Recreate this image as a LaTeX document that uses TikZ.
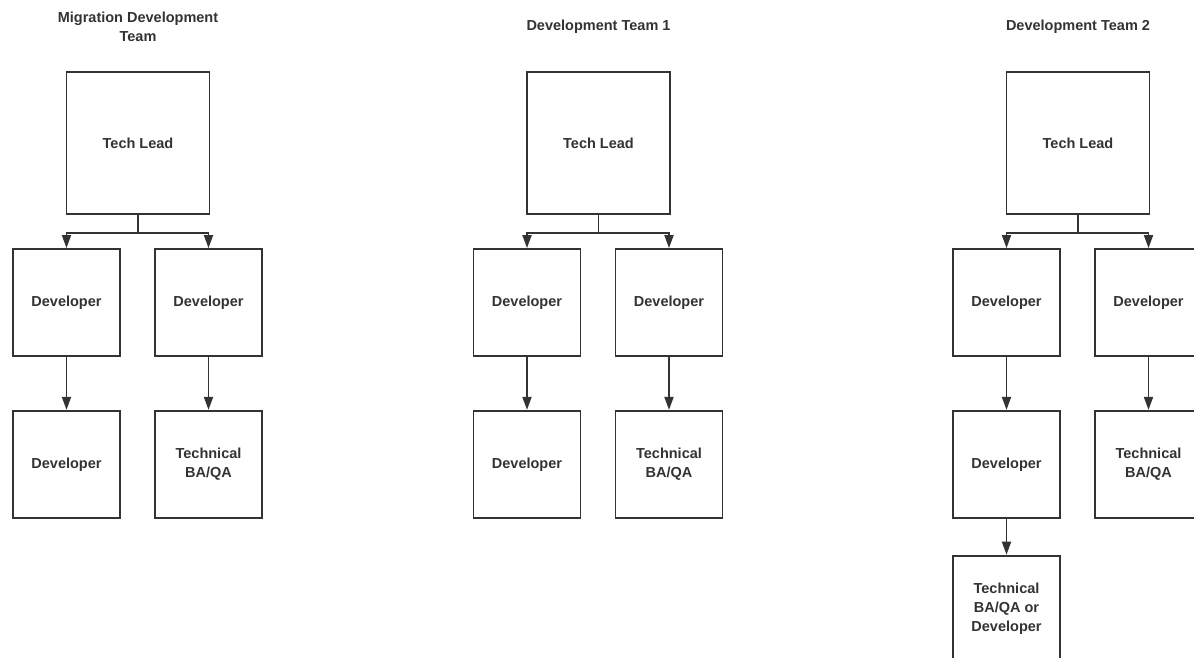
\documentclass[tikz,border=0pt]{standalone}
\usepackage{fontspec}
\setmainfont{Liberation Sans}
\usetikzlibrary{positioning,arrows.meta}
\definecolor{chartline}{RGB}{51,51,51}

\begin{document}
\begin{tikzpicture}[x=1pt,y=-1pt,
  every node/.style={font=\fontsize{14.5}{19}\selectfont\bfseries,align=center,text=chartline},
  lead/.style={draw=chartline,line width=1.8pt,minimum width=143pt,minimum height=142pt,inner sep=0pt},
  member/.style={draw=chartline,line width=1.8pt,minimum width=107pt,minimum height=107pt,inner sep=0pt},
  link/.style={draw=chartline,line width=1.8pt,-{Triangle[width=9pt,length=13pt]}}]
  \useasboundingbox (0,0) rectangle (1194,658);

  % migration team
  \node (title1) at (138,27) {Migration Development\\Team};
  \node[lead] (lead1) at (138,143) {Tech Lead};
  \node[member] (dev1a) at (66.5,302.5) {Developer};
  \node[member] (dev1b) at (208.5,302.5) {Developer};
  \node[member,below=53pt of dev1a] (dev1c) {Developer};
  \node[member,below=53pt of dev1b] (qa1) {Technical\\BA/QA};
  \draw[link] (lead1.south) -- ++(0,18) -| (dev1a.north);
  \draw[link] (lead1.south) -- ++(0,18) -| (dev1b.north);
  \draw[link] (dev1a) -- (dev1c);
  \draw[link] (dev1b) -- (qa1);

  % team 1
  \node (title2) at (598.5,27) {Development Team 1};
  \node[lead] (lead2) at (598.5,143) {Tech Lead};
  \node[member] (dev2a) at (527,302.5) {Developer};
  \node[member] (dev2b) at (669,302.5) {Developer};
  \node[member,below=53pt of dev2a] (dev2c) {Developer};
  \node[member,below=53pt of dev2b] (qa2) {Technical\\BA/QA};
  \draw[link] (lead2.south) -- ++(0,18) -| (dev2a.north);
  \draw[link] (lead2.south) -- ++(0,18) -| (dev2b.north);
  \draw[link] (dev2a) -- (dev2c);
  \draw[link] (dev2b) -- (qa2);

  % team 2
  \node (title3) at (1078,27) {Development Team 2};
  \node[lead] (lead3) at (1078,143) {Tech Lead};
  \node[member] (dev3a) at (1006.5,302.5) {Developer};
  \node[member] (dev3b) at (1148.5,302.5) {Developer};
  \node[member,below=53pt of dev3a] (dev3c) {Developer};
  \node[member,below=53pt of dev3b] (qa3) {Technical\\BA/QA};
  \node[member,below=36pt of dev3c] (qa3b) {Technical\\BA/QA or\\Developer};
  \draw[link] (lead3.south) -- ++(0,18) -| (dev3a.north);
  \draw[link] (lead3.south) -- ++(0,18) -| (dev3b.north);
  \draw[link] (dev3a) -- (dev3c);
  \draw[link] (dev3b) -- (qa3);
  \draw[link] (dev3c) -- (qa3b);
\end{tikzpicture}
\end{document}
